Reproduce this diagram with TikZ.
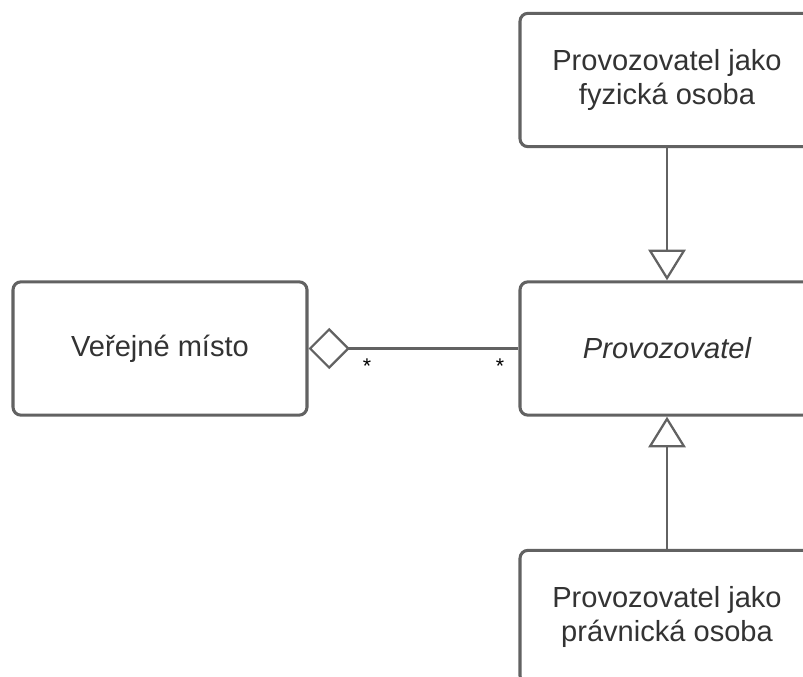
\documentclass[tikz,border=0pt]{standalone}
\usepackage{fontspec}
\setmainfont{Liberation Sans}
\usetikzlibrary{arrows.meta}
\definecolor{edge}{HTML}{626262}
\definecolor{txt}{HTML}{333333}
\tikzset{
  box/.style={draw=edge, line width=2.3pt, rounded corners=6pt, fill=white,
    minimum width=220.5pt, minimum height=100pt, align=center, text=txt,
    font=\fontsize{21.8pt}{25.5pt}\selectfont, inner sep=0pt},
  conn/.style={draw=edge, line width=1.7pt},
  mult/.style={font=\fontsize{16pt}{18pt}\selectfont, text=black, inner sep=0pt}
}
\begin{document}
\begin{tikzpicture}[x=0.75pt,y=-0.75pt]
\useasboundingbox (0,0) rectangle (803,677);
\clip (0,0) rectangle (803,677);
\node[box] (fyz) at (667,80) {Provozovatel jako\\fyzická osoba};
\node[box] (prov) at (667,348.5) {\itshape Provozovatel};
\node[box] (mist) at (160,348.5) {Veřejné místo};
\node[box] (prav) at (667,617) {Provozovatel jako\\právnická osoba};
\draw[conn, -{Triangle[open,length=23pt,width=28pt,line width=1.7pt]}] (fyz.south) -- (prov.north);
\draw[conn, -{Triangle[open,length=23pt,width=28pt,line width=1.7pt]}] (prav.north) -- (prov.south);
\draw[conn, {Diamond[open,length=31pt,width=31pt,line width=1.7pt]}-] (mist.east) -- (prov.west);
\node[mult] (m1) at (367,366) {*};
\node[mult] (m2) at (500,366) {*};
\end{tikzpicture}
\end{document}
